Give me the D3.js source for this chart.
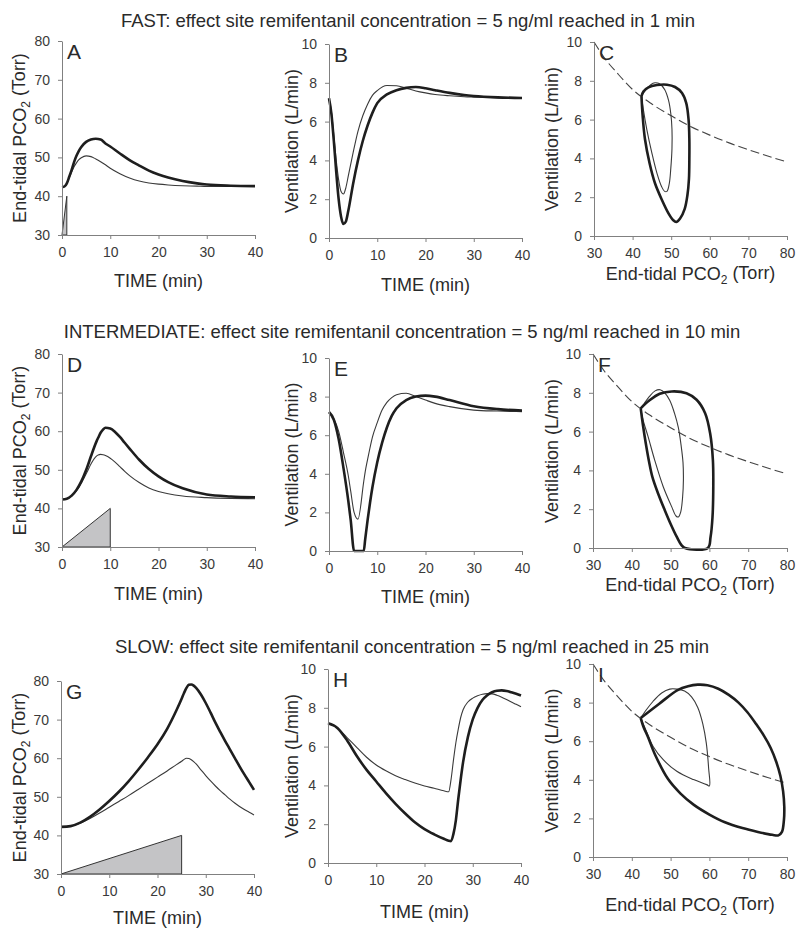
<!DOCTYPE html>
<html>
<head>
<meta charset="utf-8">
<script src="https://cdn.jsdelivr.net/npm/d3@7"></script>
<style>
  body { margin: 0; background: #fff; }
  svg { display: block; font-family: "Liberation Sans", Arial, sans-serif; }
</style>
</head>
<body>
<svg id="chart" width="796" height="931"></svg>
<script>
// ---------- data ----------
const TITLES = [
  "FAST: effect site remifentanil concentration = 5 ng/ml reached in 1 min",
  "INTERMEDIATE: effect site remifentanil concentration = 5 ng/ml reached in 10 min",
  "SLOW: effect site remifentanil concentration = 5 ng/ml reached in 25 min"
]
const TIME_TICKS = [0, 10, 20, 30, 40]
const PCO2_TICKS = [30, 40, 50, 60, 70, 80]
const VENT_TICKS = [0, 2, 4, 6, 8, 10]

// infusion ramp (min to reach 5 ng/ml), drawn from 30 to 40 on the PCO2 axis
const rampEnd = [1, 10, 25]
const rampLevels = [30, 40]

// FAST
const fastTime = [0, 0.5, 1, 1.5, 2, 2.5, 3, 3.5, 4, 5, 6, 7, 8, 9, 10, 12, 14, 16, 18, 20, 22, 25, 28, 30, 35, 40]
const fastPco2Thick = [42.3, 42.5, 43.3, 45.0, 46.8, 48.8, 50.4, 51.7, 52.7, 54.0, 54.6, 54.8, 54.6, 53.6, 52.8, 51.0, 49.3, 47.9, 46.6, 45.6, 44.8, 43.9, 43.3, 43.0, 42.7, 42.6]
const fastPco2Thin = [42.3, 42.5, 43.3, 44.8, 46.2, 47.6, 48.6, 49.4, 49.9, 50.4, 50.2, 49.6, 48.9, 48.1, 47.2, 45.8, 44.7, 43.9, 43.4, 43.1, 42.9, 42.7, 42.6, 42.5, 42.5, 42.5]
const fastVentThick = [7.2, 6.4, 5.0, 3.4, 2.0, 1.1, 0.72, 0.85, 1.4, 2.8, 4.0, 5.0, 5.8, 6.45, 6.95, 7.4, 7.62, 7.74, 7.78, 7.72, 7.62, 7.48, 7.37, 7.32, 7.25, 7.22]
const fastVentThin = [7.2, 6.5, 5.3, 4.0, 3.0, 2.4, 2.27, 2.6, 3.2, 4.4, 5.5, 6.3, 6.9, 7.35, 7.6, 7.86, 7.85, 7.72, 7.58, 7.48, 7.4, 7.33, 7.28, 7.26, 7.22, 7.2]

// INTERMEDIATE
const midTime = [0, 1, 2, 3, 4, 4.5, 5.2, 6, 7.2, 7.5, 8, 8.5, 9, 10, 11, 12, 13, 14, 16, 18, 20, 22, 25, 30, 35, 40]
const midPco2Thick = [42.3, 42.5, 43.3, 44.8, 47.0, 48.4, 50.6, 53.5, 57.5, 58.3, 59.6, 60.4, 60.9, 60.7, 59.8, 58.5, 57.0, 55.5, 52.6, 50.2, 48.3, 46.8, 45.2, 43.6, 43.1, 42.9]
const midPco2Thin = [42.3, 42.5, 43.2, 44.5, 46.5, 47.7, 49.4, 51.5, 53.6, 53.85, 54.0, 53.9, 53.7, 53.0, 52.0, 50.8, 49.6, 48.5, 46.7, 45.3, 44.4, 43.8, 43.2, 42.8, 42.6, 42.5]
const midVentThick = [7.2, 6.8, 5.8, 4.3, 2.6, 1.6, 0, 0, 0, 0.6, 1.6, 2.5, 3.3, 4.6, 5.6, 6.4, 7.0, 7.4, 7.82, 8.0, 8.05, 8.0, 7.82, 7.5, 7.35, 7.28]
const midVentThin = [7.2, 6.85, 6.2, 5.1, 3.9, 3.1, 2.0, 1.65, 3.6, 4.1, 4.75, 5.35, 5.9, 6.65, 7.3, 7.7, 7.95, 8.1, 8.17, 8.0, 7.82, 7.65, 7.48, 7.3, 7.25, 7.22]

// SLOW
const slowTime = [0, 2, 4, 6, 8, 10, 12, 14, 16, 18, 20, 22, 24, 25, 25.5, 26, 26.5, 27, 27.5, 28, 29, 30, 31, 32, 33, 34, 35, 36, 37, 38, 39, 40]
const slowPco2Thick = [42.2, 42.4, 43.3, 44.8, 46.7, 48.9, 51.3, 54.0, 57.0, 60.2, 63.6, 67.6, 72.6, 75.4, 76.9, 78.2, 79.0, 79.1, 78.8, 78.2, 76.5, 74.3, 71.8, 69.2, 66.8, 64.5, 62.3, 60.1, 57.9, 55.8, 53.8, 51.8]
const slowPco2Thin = [42.2, 42.4, 43.2, 44.4, 45.8, 47.3, 48.8, 50.3, 51.9, 53.5, 55.1, 56.7, 58.4, 59.2, 59.7, 60.0, 59.9, 59.6, 59.1, 58.5, 57.0, 55.5, 54.1, 52.8, 51.6, 50.5, 49.4, 48.4, 47.5, 46.7, 46.0, 45.3]
const slowVentThick = [7.2, 6.95, 6.3, 5.5, 4.8, 4.2, 3.6, 3.05, 2.55, 2.1, 1.75, 1.48, 1.25, 1.15, 1.13, 1.5, 2.2, 3.3, 4.3, 5.2, 6.5, 7.4, 8.0, 8.4, 8.65, 8.8, 8.88, 8.9, 8.87, 8.8, 8.72, 8.63]
const slowVentThin = [7.2, 6.95, 6.45, 5.95, 5.45, 5.05, 4.75, 4.5, 4.3, 4.12, 3.97, 3.85, 3.72, 3.67, 4.3, 5.3, 6.2, 6.9, 7.5, 7.9, 8.3, 8.5, 8.62, 8.7, 8.73, 8.72, 8.65, 8.55, 8.43, 8.3, 8.18, 8.05]

const loopFastThick = [[42.3, 7.2], [42.6, 6.2], [43.2, 5.0], [44.4, 3.75], [45.8, 2.72], [47.6, 1.86], [49.3, 1.17], [50.5, 0.82], [51.3, 0.72], [52.3, 0.9], [53.5, 1.4], [54.2, 2.1], [54.6, 2.95], [54.7, 3.95], [54.7, 5.0], [54.5, 6.0], [53.9, 6.85], [52.8, 7.37], [51.0, 7.68], [48.9, 7.8], [46.3, 7.78], [44.1, 7.66], [42.8, 7.45], [42.3, 7.2]]
const loopFastThin = [[42.3, 7.2], [42.8, 6.5], [43.7, 5.47], [45.0, 4.27], [46.3, 3.24], [47.5, 2.55], [48.3, 2.3], [48.9, 2.3], [49.5, 2.7], [49.9, 3.5], [50.2, 4.5], [50.2, 5.5], [49.9, 6.3], [49.3, 7.0], [48.3, 7.55], [47.0, 7.85], [45.8, 7.9], [44.7, 7.8], [43.3, 7.5], [42.3, 7.2]]
const loopMidThick = [[42.3, 7.2], [42.9, 6.3], [43.6, 5.4], [44.4, 4.5], [45.3, 3.67], [46.8, 2.8], [48.5, 1.95], [50.1, 1.2], [51.6, 0.57], [52.8, 0.15], [53.7, 0], [59.6, 0], [60.3, 0.57], [60.8, 1.6], [61.0, 3.16], [60.9, 4.53], [60.2, 5.9], [58.9, 6.95], [56.7, 7.64], [54.1, 7.98], [50.3, 8.07], [47.2, 7.95], [44.5, 7.6], [42.3, 7.2]]
const loopMidThin = [[42.3, 7.2], [42.9, 6.6], [44.2, 5.74], [45.9, 4.53], [48.1, 3.16], [50.3, 2.12], [51.4, 1.65], [52.0, 1.6], [52.6, 1.85], [53.1, 2.64], [53.3, 3.5], [53.2, 4.4], [52.7, 5.3], [52.0, 6.2], [51.0, 6.95], [49.8, 7.6], [48.5, 8.0], [47.3, 8.16], [46.0, 8.1], [44.5, 7.8], [43.2, 7.45], [42.3, 7.2]]
const loopSlowThick = [[42.3, 7.2], [43.0, 6.75], [44.2, 6.2], [46.0, 5.3], [49.3, 4.05], [52.5, 3.3], [56.0, 2.7], [60.0, 2.2], [64.0, 1.8], [68.5, 1.5], [72.5, 1.3], [76.2, 1.15], [77.8, 1.12], [78.7, 1.3], [79.2, 1.9], [79.3, 2.6], [79.0, 3.4], [78.3, 4.2], [77.2, 4.95], [75.8, 5.65], [74.0, 6.3], [72.0, 6.9], [69.8, 7.5], [67.5, 8.0], [65.0, 8.4], [62.3, 8.72], [59.5, 8.9], [57.0, 8.93], [54.5, 8.85], [51.8, 8.65], [47.0, 7.93], [42.3, 7.2]]
const loopSlowThin = [[42.3, 7.2], [43.8, 6.49], [45.5, 5.73], [48.1, 5.04], [51.6, 4.44], [55.9, 4.01], [59.3, 3.75], [60.0, 3.68], [59.8, 4.6], [59.2, 5.9], [58.3, 6.9], [57.0, 7.75], [55.4, 8.3], [53.6, 8.6], [51.6, 8.7], [49.8, 8.7], [47.7, 8.5], [45.5, 8.07], [43.8, 7.64], [42.3, 7.2]]

// dashed steady-state curve
const dashPco2 = [30, 33, 36, 40, 45, 50, 55, 60, 65, 70, 75, 80]
const dashVent = [10, 9.1, 8.4, 7.55, 6.8, 6.2, 5.65, 5.2, 4.8, 4.45, 4.12, 3.82]

// ---------- layout ----------
const titlePos = [[408, 26.5], [402, 338], [412, 652.5]]

const rows = [
  {time: fastTime, pco2: [fastPco2Thick, fastPco2Thin], vent: [fastVentThick, fastVentThin], loops: [loopFastThick, loopFastThin], ramp: rampEnd[0]},
  {time: midTime, pco2: [midPco2Thick, midPco2Thin], vent: [midVentThick, midVentThin], loops: [loopMidThick, loopMidThin], ramp: rampEnd[1]},
  {time: slowTime, pco2: [slowPco2Thick, slowPco2Thin], vent: [slowVentThick, slowVentThin], loops: [loopSlowThick, loopSlowThin], ramp: rampEnd[2]}
]

// [left, right, top, bottom, xLabelDy] per panel
const boxes = [
  [[62, 255, 41, 235, 52], [329, 522, 44, 238, 53], [594, 787, 42, 236, 44]],
  [[62, 255, 354, 547, 53], [329, 522, 358, 551, 52], [593, 787, 354, 548, 43]],
  [[61, 254, 681, 874, 50], [328, 521, 669, 863, 55], [593, 787, 664, 857, 54]]
]
const letters = [["A", "B", "C"], ["D", "E", "F"], ["G", "H", "I"]]
const yLabelX = [20, 292, 552]

const THICK = {color: "#1e1e1e", width: 2.6}
const THIN = {color: "#3a3a3a", width: 1.1}
const AXIS_COLOR = "#808080"
const TEXT_COLOR = "#2a2a2a"

const svg = d3.select("#chart")

const styleAxis = (g) => {
  g.select(".domain").attr("stroke", AXIS_COLOR).attr("stroke-width", 1)
  g.selectAll(".tick line").attr("stroke", AXIS_COLOR)
  g.selectAll(".tick text").attr("fill", "#3a3a3a").style("font-size", "14px")
  g.attr("font-family", null).attr("font-size", null)
}

const addPco2Label = (sel) => {
  sel.append("tspan").text("End-tidal PCO")
  sel.append("tspan").attr("font-size", "12px").attr("dy", "0.3em").text("2")
  sel.append("tspan").attr("dy", "-0.25em").text(" (Torr)")
}

const drawPanel = (box, letter, xDomain, xTicks, yDomain, yTicks, xLabel, yLabel, yLabX) => {
  const [left, right, top, bottom, labDy] = box
  const x = d3.scaleLinear().domain(xDomain).range([left, right])
  const y = d3.scaleLinear().domain(yDomain).range([bottom, top])
  const g = svg.append("g")

  const content = g.append("g")

  g.append("g")
    .attr("transform", `translate(0,${bottom})`)
    .call(d3.axisBottom(x).tickValues(xTicks).tickSize(4).tickSizeOuter(0).tickPadding(8))
    .call(styleAxis)

  g.append("g")
    .attr("transform", `translate(${left},0)`)
    .call(d3.axisLeft(y).tickValues(yTicks).tickSize(4).tickSizeOuter(0).tickPadding(8))
    .call(styleAxis)

  // x label
  const xl = g.append("text")
    .attr("x", (left + right) / 2)
    .attr("y", bottom + labDy)
    .attr("text-anchor", "middle")
    .attr("fill", TEXT_COLOR)
    .style("font-size", "18px")
  if (xLabel === "pco2") addPco2Label(xl)
  else xl.text(xLabel)

  // y label
  const yl = g.append("text")
    .attr("transform", `translate(${yLabX},${(top + bottom) / 2}) rotate(-90)`)
    .attr("text-anchor", "middle")
    .attr("dy", "0.35em")
    .attr("fill", TEXT_COLOR)
    .style("font-size", "18px")
  if (yLabel === "pco2") addPco2Label(yl)
  else yl.text(yLabel)

  g.append("text")
    .attr("x", left + 5)
    .attr("y", top + 18)
    .attr("fill", TEXT_COLOR)
    .style("font-size", "21px")
    .text(letter)

  return {x, y, content}
}

rows.forEach((row, r) => {
  svg.append("text")
    .attr("x", titlePos[r][0])
    .attr("y", titlePos[r][1])
    .attr("text-anchor", "middle")
    .attr("fill", TEXT_COLOR)
    .style("font-size", "18.5px")
    .text(TITLES[r])

  // PCO2 vs time
  const pA = drawPanel(boxes[r][0], letters[r][0], [0, 40], TIME_TICKS, [30, 80], PCO2_TICKS, "TIME (min)", "pco2", yLabelX[0])
  const wedge = [[0, rampLevels[0]], [row.ramp, rampLevels[1]], [row.ramp, rampLevels[0]]]
  pA.content.append("path")
    .attr("d", d3.line().x(d => pA.x(d[0])).y(d => pA.y(d[1])).curve(d3.curveLinearClosed)(wedge))
    .attr("fill", "#c4c4c6")
    .attr("stroke", "#333")
    .attr("stroke-width", 1)
  const timeLine = (sc, vals) => d3.line()
    .x((d, i) => sc.x(row.time[i]))
    .y(d => sc.y(d))
    .curve(d3.curveMonotoneX)(vals)
  ;[THIN, THICK].forEach((st, k) => {
    pA.content.append("path")
      .attr("d", timeLine(pA, row.pco2[1 - k]))
      .attr("fill", "none")
      .attr("stroke", st.color)
      .attr("stroke-width", st.width)
  })

  // ventilation vs time
  const pB = drawPanel(boxes[r][1], letters[r][1], [0, 40], TIME_TICKS, [0, 10], VENT_TICKS, "TIME (min)", "Ventilation (L/min)", yLabelX[1])
  ;[THIN, THICK].forEach((st, k) => {
    pB.content.append("path")
      .attr("d", timeLine(pB, row.vent[1 - k]))
      .attr("fill", "none")
      .attr("stroke", st.color)
      .attr("stroke-width", st.width)
      .attr("stroke-linejoin", "round")
  })

  // ventilation vs PCO2 loop
  const pC = drawPanel(boxes[r][2], letters[r][2], [30, 80], PCO2_TICKS, [0, 10], VENT_TICKS, "pco2", "Ventilation (L/min)", yLabelX[2])
  pC.content.append("path")
    .attr("d", d3.line().x((d, i) => pC.x(dashPco2[i])).y(d => pC.y(d)).curve(d3.curveMonotoneX)(dashVent))
    .attr("fill", "none")
    .attr("stroke", "#444")
    .attr("stroke-width", 1.1)
    .attr("stroke-dasharray", "9,4")
  const loopLine = d3.line().x(d => pC.x(d[0])).y(d => pC.y(d[1])).curve(d3.curveCatmullRom.alpha(0.5))
  ;[THIN, THICK].forEach((st, k) => {
    pC.content.append("path")
      .attr("d", loopLine(row.loops[1 - k]))
      .attr("fill", "none")
      .attr("stroke", st.color)
      .attr("stroke-width", st.width)
      .attr("stroke-linejoin", "round")
  })
})
</script>
</body>
</html>
